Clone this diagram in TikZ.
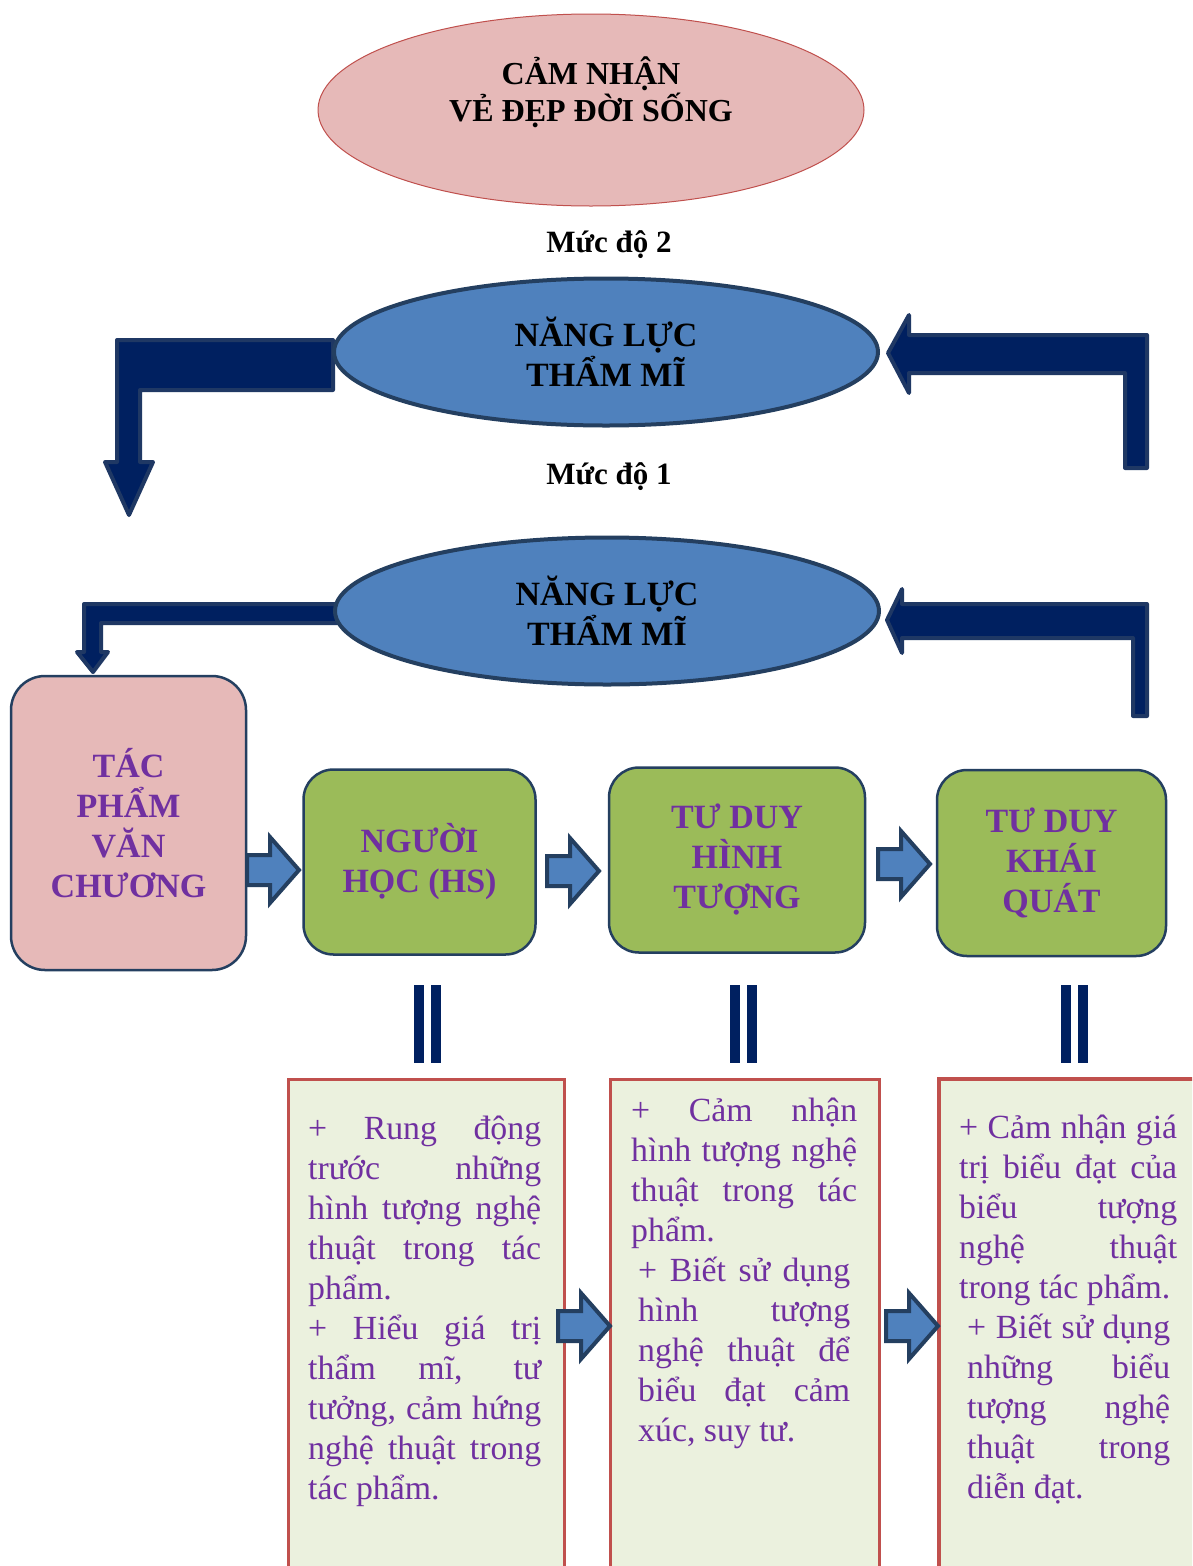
\documentclass[tikz,border=0pt]{standalone}
\usepackage{fontspec}
\setmainfont{Liberation Serif}
\usetikzlibrary{shapes.geometric,calc}
\definecolor{pinkf}{HTML}{E6B9B8}
\definecolor{pinkd}{HTML}{C0504D}
\definecolor{ellb}{HTML}{4F81BD}
\definecolor{dkb}{HTML}{243F60}
\definecolor{navy}{HTML}{002060}
\definecolor{navyb}{HTML}{1F3864}
\definecolor{grn}{HTML}{9BBB59}
\definecolor{purp}{HTML}{7030A0}
\definecolor{lgrn}{HTML}{EBF1DE}
\definecolor{redb}{HTML}{C0504D}
\newcommand\JL[2]{\hbox to #1{#2}}
\newcommand\ML[3]{\moveright#1\hbox to #2{#3}}
\begin{document}
\begin{tikzpicture}[x=1pt,y=-1pt,
  bigell/.style={ellipse, fill=ellb, draw=dkb, line width=4pt, minimum width=544pt, minimum height=147pt, inner sep=0pt, align=center, font=\bfseries\fontsize{34}{40}\selectfont},
  rbox/.style={rectangle, rounded corners=30pt, draw=dkb, line width=2.5pt, inner sep=0pt, align=center, text=purp, font=\bfseries\fontsize{34}{40}\selectfont},
  bent/.style={fill=navy, draw=navyb, line width=4pt, line join=round},
  barrow/.pic={\draw[fill=ellb, draw=dkb, line width=4pt, line join=miter] (-26,-15) -- (-3,-15) -- (-3,-33) -- (26,0) -- (-3,33) -- (-3,15) -- (-26,15) -- cycle;},
  tbox/.style={rectangle, fill=lgrn, draw=redb, line width=2.5pt, anchor=north west, inner sep=0pt},
  body/.style={anchor=base west, inner sep=0pt, text=purp, font=\fontsize{33.8}{40}\selectfont},
  lvl/.style={anchor=base, inner sep=0pt, font=\bfseries\fontsize{31}{37}\selectfont},
  dbar/.style={fill=navy}
]
\useasboundingbox (0,0) rectangle (1192,1566);
\clip (0,0) rectangle (1192,1566);
\fill[white] (0,0) rectangle (1192,1566);

% top ellipse
\node[ellipse, fill=pinkf, draw=pinkd, line width=1pt, minimum width=546pt, minimum height=192pt] (e1) at (591,110) {};
\node[align=center, inner sep=0pt, font=\bfseries\fontsize{32}{37}\selectfont] (e1t) at (591,92) {CẢM NHẬN\\VẺ ĐẸP ĐỜI SỐNG};

\node[lvl] (l2) at (609,252) {Mức độ 2};
\node[lvl] (l1) at (609,484) {Mức độ 1};

% bent arrows (behind ellipses)
\draw[bent] (333,340) -- (117,340) -- (117,462) -- (105,462) -- (129,515) -- (153,462) -- (140,462) -- (140,390) -- (333,390) -- cycle;
\draw[bent] (888,353) -- (909,315) -- (909,335) -- (1147,335) -- (1147,468) -- (1125,468) -- (1125,373) -- (909,373) -- (909,393) -- cycle;
\draw[bent] (340,604) -- (84,604) -- (84,652) -- (77,652) -- (93,672) -- (108,652) -- (101,652) -- (101,623) -- (340,623) -- cycle;
\draw[bent] (887,620) -- (902,589) -- (902,604) -- (1147,604) -- (1147,716) -- (1133,716) -- (1133,638) -- (902,638) -- (902,653) -- cycle;

% ellipses
\node[bigell] (e2) at (606,352) {NĂNG LỰC\\THẨM MĨ};
\node[bigell] (e3) at (607,611) {NĂNG LỰC\\THẨM MĨ};

% boxes
\node[rbox, fill=pinkf, minimum width=235pt, minimum height=294pt, rounded corners=34pt] (b1) at (128.5,823) {TÁC\\PHẨM\\VĂN\\CHƯƠNG};
\node[rbox, fill=grn, minimum width=232pt, minimum height=185pt] (b2) at (419.5,862) {NGƯỜI\\HỌC (HS)};
\node[rbox, fill=grn, minimum width=256pt, minimum height=185pt] (b3) at (737,860) {TƯ DUY\\HÌNH\\TƯỢNG};
\node[rbox, fill=grn, minimum width=229pt, minimum height=186pt] (b4) at (1051.5,863) {TƯ DUY\\KHÁI\\QUÁT};

% double bars
\fill[dbar] (414,985) rectangle (424,1063);
\fill[dbar] (431,985) rectangle (441,1063);
\fill[dbar] (730,985) rectangle (740,1063);
\fill[dbar] (747,985) rectangle (757,1063);
\fill[dbar] (1061,985) rectangle (1071,1063);
\fill[dbar] (1078,985) rectangle (1088,1063);

% text boxes
\node[tbox, minimum width=276pt, minimum height=520pt] (tA) at (287,1078) {};
\node[tbox, minimum width=269pt, minimum height=520pt] (tB) at (609,1078) {};
\node[tbox, line width=4pt, minimum width=280pt, minimum height=520pt] (tC) at (937,1077) {};

\node[body] (xA) at (308,1139) {\vtop{%
\JL{233pt}{+ Rung động}
\JL{233pt}{trước những}
\JL{233pt}{hình tượng nghệ}
\JL{233pt}{thuật trong tác}
\hbox{phẩm.}
\JL{233pt}{+ Hiểu giá trị}
\JL{233pt}{thẩm mĩ, tư}
\JL{233pt}{tưởng, cảm hứng}
\JL{233pt}{nghệ thuật trong}
\hbox{tác phẩm.}}};

\node[body] (xB) at (631,1121) {\vtop{%
\JL{226pt}{+ Cảm nhận}
\JL{226pt}{hình tượng nghệ}
\JL{226pt}{thuật trong tác}
\hbox{phẩm.}
\ML{7pt}{212pt}{+ Biết sử dụng}
\ML{7pt}{212pt}{hình tượng}
\ML{7pt}{212pt}{nghệ thuật để}
\ML{7pt}{212pt}{biểu đạt cảm}
\moveright7pt\hbox{xúc, suy tư.}}};

\node[body] (xC) at (959,1138) {\vtop{%
\JL{218pt}{+ Cảm nhận giá}
\JL{218pt}{trị biểu đạt của}
\JL{218pt}{biểu tượng}
\JL{218pt}{nghệ thuật}
\hbox{trong tác phẩm.}
\ML{8pt}{203pt}{+ Biết sử dụng}
\ML{8pt}{203pt}{những biểu}
\ML{8pt}{203pt}{tượng nghệ}
\ML{8pt}{203pt}{thuật trong}
\moveright8pt\hbox{diễn đạt.}}};

% block arrows
\pic at (273,870) {barrow};
\pic at (573,871) {barrow};
\pic at (904,864) {barrow};
\pic at (584,1326) {barrow};
\pic at (912,1326) {barrow};
\end{tikzpicture}
\end{document}
